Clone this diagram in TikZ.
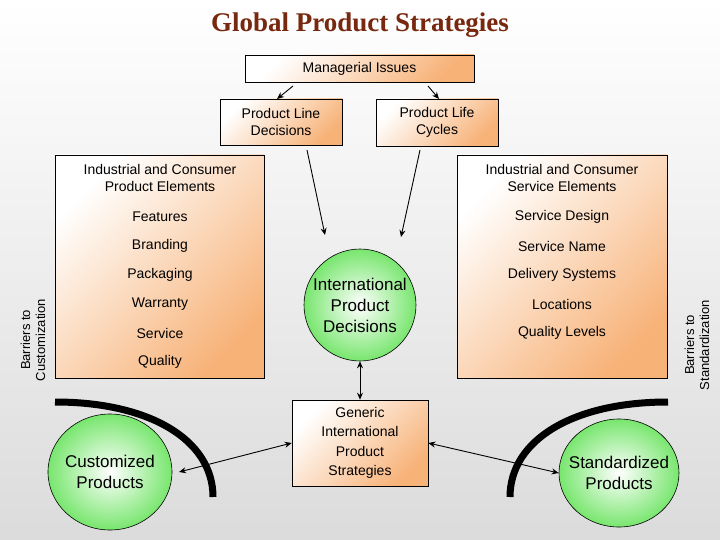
\documentclass[tikz,border=0pt]{standalone}
\usepackage{fontspec}
\setmainfont{Liberation Sans}
\newfontfamily\titlefont{Liberation Serif}
\usetikzlibrary{shapes.geometric,arrows.meta}
\definecolor{boxor}{RGB}{247,178,120}
\definecolor{greenf}{RGB}{120,230,110}
\definecolor{titlec}{RGB}{120,40,15}
\begin{document}
\begin{tikzpicture}[x=1pt,y=-1pt,
  obox/.style={draw=black,line width=0.6pt,left color=white,right color=boxor,shading angle=45,inner sep=0pt},
  txt/.style={font=\fontsize{14}{17}\selectfont,align=center},
  gcirc/.style={draw=black,line width=0.6pt,inner color=white,outer color=greenf,inner sep=0pt},
  arr/.style={-{Stealth[length=7pt,width=6pt]},line width=0.9pt},
  darr/.style={{Stealth[length=7pt,width=6pt]}-{Stealth[length=7pt,width=6pt]},line width=0.9pt},
  barrier/.style={line width=7pt}]
\fill[top color=white,bottom color=black!14] (0,0) rectangle (720,540);
\useasboundingbox (0,0) rectangle (720,540);
\node[font=\titlefont\bfseries\fontsize{27}{29}\selectfont,text=titlec] (title) at (360,25) {Global Product Strategies};
\node[obox,minimum width=229pt,minimum height=27pt] (mi) at (359.5,68.5) {};
\node[txt] at (mi) {Managerial Issues};
\node[obox,minimum width=122pt,minimum height=46pt] (pl) at (281,122) {};
\node[txt] at (pl) {Product Line\\Decisions};
\node[obox,minimum width=122pt,minimum height=47pt] (plc) at (437,122.5) {};
\node[txt] at (plc) {Product Life\\Cycles};
\node[obox,minimum width=209pt,minimum height=223pt] (lb) at (159.5,266.5) {};
\node[obox,minimum width=210pt,minimum height=223pt] (rb) at (562,266.5) {};
\node[txt] (lh) at (160,178) {Industrial and Consumer\\Product Elements};
\node[txt] (rh) at (562,178) {Industrial and Consumer\\Service Elements};
\foreach \t [count=\i] in {Features,Branding,Packaging,Warranty,Service,Quality}
  \node[txt] (l\i) at (160,{188+\i*29}) {\t};
\foreach \t [count=\i] in {Service Design,Service Name,Delivery Systems,Locations,Quality Levels}
  \node[txt] (r\i) at (562,{188+\i*29}) {\t};
\node[gcirc,circle,minimum size=112pt] (ipd) at (360,305) {};
\node[txt,font=\fontsize{17}{21}\selectfont] at (ipd) {International\\Product\\Decisions};
\node[obox,minimum width=136pt,minimum height=86pt] (gen) at (360,443) {};
\node[txt,font=\fontsize{14}{19.5}\selectfont] at (gen) {Generic\\International\\Product\\Strategies};
\node[gcirc,ellipse,minimum width=124pt,minimum height=116pt] (cust) at (110,472) {};
\node[txt,font=\fontsize{17}{21}\selectfont] at (cust) {Customized\\Products};
\node[gcirc,ellipse,minimum width=120pt,minimum height=108pt] (stand) at (619,473) {};
\node[txt,font=\fontsize{17}{21}\selectfont] at (stand) {Standardized\\Products};
\draw[barrier] (55,402) .. controls (150,402) and (213,440) .. (213,497);
\draw[barrier] (668,402) .. controls (573,402) and (510,440) .. (510,497);
\node[txt,rotate=90,font=\fontsize{13}{15}\selectfont] (bc) at (33,340) {Barriers to\\Customization};
\node[txt,rotate=90,font=\fontsize{13}{15}\selectfont] (bs) at (697,345) {Barriers to\\Standardization};
\coordinate (a1) at (293,86); \coordinate (a2) at (428,86);
\draw[arr] (a1) -- (277,99);
\draw[arr] (a2) -- (439,99);
\draw[arr] (307,150) -- (325,235);
\draw[arr] (420,150) -- (401,237);
\draw[darr] (ipd.south) -- (gen.north);
\draw[darr] (gen.west) -- (179,472);
\draw[darr] (gen.east) -- (stand.west);
\end{tikzpicture}
\end{document}
